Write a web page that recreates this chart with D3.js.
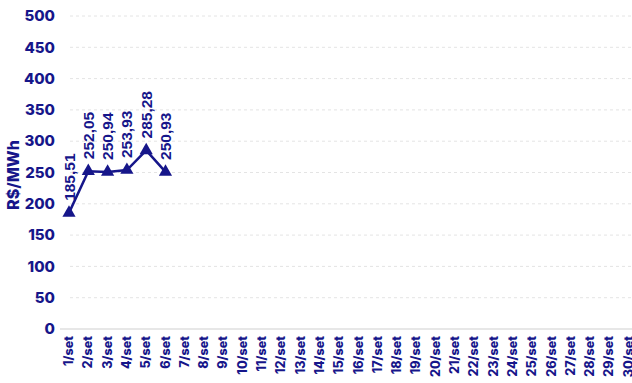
<!DOCTYPE html>
<html>
<head>
<meta charset="utf-8">
<style>
  body { margin: 0; background: #fff; }
  svg { display: block; font-family: 'Inter', 'Liberation Sans', sans-serif; }
</style>
<script src="https://d3js.org/d3.v7.min.js"></script>
</head>
<body>
<svg width="632" height="383"></svg>
<script>
// days of september
const days = d3.range(1, 31).map(d => d + '/set');
const values = [185.51, 252.05, 250.94, 253.93, 285.28, 250.93];
const yTicks = [0, 50, 100, 150, 200, 250, 300, 350, 400, 450, 500];

const navy = '#16168a';
const svg = d3.select('svg');

const x = d3.scalePoint().domain(days).range([69, 628.7]);
const y = d3.scaleLinear().domain([0, 500]).range([329, 16]);

// gridlines
svg.append('g').selectAll('line')
  .data(yTicks.filter(d => d > 0))
  .join('line')
  .attr('x1', 70).attr('x2', 632)
  .attr('y1', d => y(d)).attr('y2', d => y(d))
  .attr('stroke', '#e4e4e4').attr('stroke-dasharray', '3,3');

// baseline
svg.append('line')
  .attr('x1', 60).attr('x2', 632)
  .attr('y1', y(0)).attr('y2', y(0))
  .attr('stroke', '#cfcfcf').attr('stroke-width', 1.2);

// y tick labels
svg.append('g').selectAll('text')
  .data(yTicks)
  .join('text')
  .attr('x', 55).attr('y', d => y(d))
  .attr('dy', '0.35em')
  .attr('text-anchor', 'end')
  .attr('font-size', 15).attr('font-weight', 800)
  .attr('fill', navy)
  .text(d => d);

// y title
svg.append('text')
  .attr('transform', 'translate(19,175) rotate(-90)')
  .attr('text-anchor', 'middle')
  .attr('font-size', 16).attr('font-weight', 800)
  .attr('fill', navy)
  .text('R$/MWh');

// x labels
svg.append('g').selectAll('text')
  .data(days)
  .join('text')
  .attr('transform', d => `translate(${x(d) + 4},336) rotate(-90)`)
  .attr('text-anchor', 'end')
  .attr('font-size', 12.5).attr('font-weight', 800)
  .attr('fill', navy)
  .text(d => d);

// line
const pts = values.map((v, i) => [x(days[i]), y(v)]);
svg.append('path')
  .attr('d', d3.line()(pts))
  .attr('fill', 'none')
  .attr('stroke', navy).attr('stroke-width', 2.5);

// markers
svg.append('g').selectAll('path')
  .data(pts)
  .join('path')
  .attr('transform', d => `translate(${d[0]},${d[1]})`)
  .attr('d', d3.symbol(d3.symbolTriangle, 75))
  .attr('fill', navy);

// value labels
svg.append('g').selectAll('text')
  .data(values)
  .join('text')
  .attr('transform', (d, i) => `translate(${x(days[i]) + 5.5},${y(d) - 12}) rotate(-90)`)
  .attr('font-family', "'Liberation Sans', Arial, sans-serif")
  .attr('font-size', 15.5).attr('font-weight', 700)
  .attr('fill', navy)
  .text(d => d.toFixed(2).replace('.', ','));
</script>
</body>
</html>
